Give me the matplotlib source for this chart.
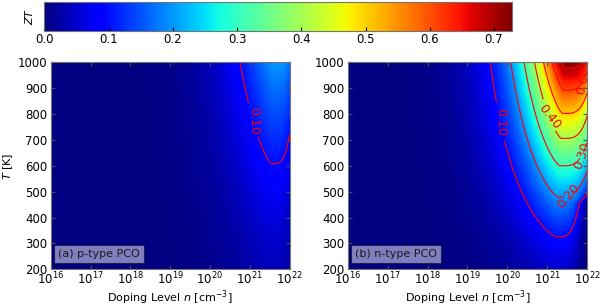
import numpy as np
import matplotlib.pyplot as plt

# grid of the maps (log10 of doping level, temperature)
log_n = np.linspace(16, 22, 301)
temps = np.linspace(200, 1000, 201)

# panel settings
panel_names = ["(a) p-type PCO", "(b) n-type PCO"]
zt_floor = [0.04, 0.055]        # ZT on the ridge at 200 K
zt_top = [0.20, 0.7275]         # ZT on the ridge at 1000 K
ridge_cold = [21.50, 21.22]     # log10 n of the maximum at 300 K
ridge_hot = [21.62, 21.45]      # log10 n of the maximum at 1000 K
right_width = [0.62, 0.92]      # fall-off width above the maximum
right_shape = 4
rise_power = 1.458
left_width = 1.13
left_shape = 1.35

levels = [0.1, 0.2, 0.3, 0.4, 0.5, 0.6, 0.7]
label_fmt = {0.1: "0.10", 0.2: "0.20", 0.3: "0.30", 0.4: "0.40", 0.5: "0.5",
             0.6: "0.60", 0.7: "0.70"}
label_spots = [
    [(10**21.0, 764)],
    [(10**19.82, 770), (10**21.52, 505), (10**21.86, 680), (10**20.99, 784), (10**21.9, 900)],
]
label_angles = [[-90], [-90, 50, 72, -52, 80]]
cbar_ticks = [0.0, 0.1, 0.2, 0.3, 0.4, 0.5, 0.6, 0.7]


def zt_map(i):
    X, T = np.meshgrid(log_n, temps)
    peak = zt_floor[i] + (zt_top[i] - zt_floor[i]) * ((T - 200) / 800) ** rise_power
    x0 = ridge_cold[i] + (ridge_hot[i] - ridge_cold[i]) * (T - 300) / 700
    d = X - x0
    s_r = np.clip(right_width[i] - 0.15 * np.exp(-(T - 494) / 50), 0.6, None)
    f = np.where(d < 0, np.exp(-(np.abs(d) / left_width) ** left_shape),
                 np.exp(-(d / s_r) ** right_shape))
    return peak * f


plt.rcParams['font.size'] = 8
plt.rcParams['mathtext.default'] = 'it'
fig = plt.figure(figsize=(6, 3.06), dpi=100)
ax_list = [fig.add_axes([0.0845, 0.12, 0.398, 0.676]),
           fig.add_axes([0.5795, 0.12, 0.3993, 0.676])]
cax = fig.add_axes([0.0738, 0.9, 0.779, 0.094])

n_vals = 10 ** log_n
for i, ax in enumerate(ax_list):
    z = zt_map(i)
    mesh = ax.pcolormesh(n_vals, temps, z, cmap='jet', vmin=0, vmax=0.7275,
                         shading='gouraud', rasterized=True)
    cs = ax.contour(n_vals, temps, z, levels=levels, colors='red', linewidths=0.8)
    texts = ax.clabel(cs, fmt=label_fmt, fontsize=9, inline=True,
                      manual=label_spots[i])
    for t, a in zip(texts, label_angles[i]):
        t.set_rotation(a)
    ax.set_xscale('log')
    ax.set_xlim(1e16, 1e22)
    ax.set_ylim(200, 1000)
    ax.set_xticks([1e16, 1e17, 1e18, 1e19, 1e20, 1e21, 1e22])
    ax.minorticks_off()
    ax.set_yticks(range(200, 1001, 100))
    ax.tick_params(direction='in', top=True, right=True, length=3, color='0.3',
                   labelsize=8.5)
    ax.tick_params(axis='x', pad=1)
    ax.tick_params(axis='y', pad=2.5)
    for sp in ax.spines.values():
        sp.set_color('0.45')
    ax.set_xlabel(r'Doping Level $n$ [cm$^{-3}$]', labelpad=1)
    ax.text(0.03, 0.06, panel_names[i], transform=ax.transAxes, fontsize=8,
            color='0.1', bbox=dict(facecolor='white', alpha=0.5, edgecolor='black',
                                   boxstyle='square,pad=0.35', linewidth=0.8))
ax_list[0].set_ylabel(r'$T$ [K]', labelpad=2)

cbar = fig.colorbar(mesh, cax=cax, orientation='horizontal', ticks=cbar_ticks)
cbar.ax.tick_params(direction='in', length=3, color='black', labelsize=8.5, pad=2)
cbar.ax.set_xticklabels([f"{t:.1f}" for t in cbar_ticks])
cbar.outline.set_edgecolor('0.45')
cax.text(-0.02, 0.5, '$ZT$', rotation=90, transform=cax.transAxes,
         ha='right', va='center')

fig.savefig('out.png', dpi=100)
